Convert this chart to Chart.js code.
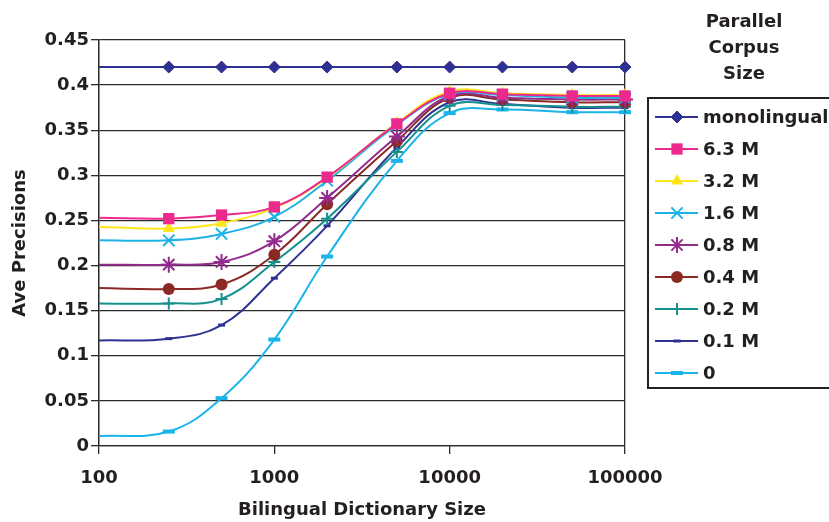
<!DOCTYPE html>
<html>
<head>
<meta charset="utf-8">
<script src="https://cdn.jsdelivr.net/npm/chart.js@4.4.1/dist/chart.umd.min.js"></script>
<style>
  html, body { margin: 0; padding: 0; background: #fff; }
  #wrap { width: 829px; height: 522px; }
</style>
</head>
<body>
<div id="wrap"><canvas id="apChart" width="829" height="522"></canvas></div>
<script>
// x = bilingual dictionary size (log axis)
const dictSizes = [100, 250, 500, 1000, 2000, 5000, 10000, 20000, 50000, 100000];
const xTicks = [100, 1000, 10000, 100000];
const yTickLabels = ['0', '0.05', '0.1', '0.15', '0.2', '0.25', '0.3', '0.35', '0.4', '0.45'];

const seriesNames = ['monolingual', '6.3 M', '3.2 M', '1.6 M', '0.8 M', '0.4 M', '0.2 M', '0.1 M', '0'];
const monolingual = [0.42, 0.42, 0.42, 0.42, 0.42, 0.42, 0.42, 0.42, 0.42, 0.42];
const par63 = [0.253, 0.252, 0.256, 0.265, 0.298, 0.357, 0.391, 0.390, 0.388, 0.388];
const par32 = [0.243, 0.241, 0.247, 0.264, 0.297, 0.358, 0.393, 0.391, 0.389, 0.389];
const par16 = [0.228, 0.228, 0.235, 0.254, 0.294, 0.356, 0.390, 0.389, 0.386, 0.386];
const par08 = [0.201, 0.201, 0.204, 0.227, 0.275, 0.343, 0.388, 0.386, 0.384, 0.384];
const par04 = [0.175, 0.174, 0.179, 0.212, 0.268, 0.338, 0.386, 0.384, 0.381, 0.381];
const par02 = [0.158, 0.158, 0.163, 0.204, 0.252, 0.326, 0.377, 0.378, 0.376, 0.376];
const par01 = [0.117, 0.119, 0.134, 0.186, 0.244, 0.331, 0.381, 0.379, 0.375, 0.375];
const par0  = [0.011, 0.016, 0.053, 0.118, 0.210, 0.316, 0.369, 0.373, 0.370, 0.370];
const allSeries = [monolingual, par63, par32, par16, par08, par04, par02, par01, par0];

const legendTitle = ['Parallel', 'Corpus', 'Size'];

// marker look per series
const styles = [
    { color: '#2E3192', point: 'rectRot',  r: 6,   bw: 1 },
    { color: '#EC2A8E', point: 'rect',     r: 8,   bw: 0 },
    { color: '#FFE61A', point: 'triangle', r: 7,   bw: 0 },
    { color: '#1DB2E6', point: 'crossRot', r: 8,   bw: 2 },
    { color: '#922B8C', point: 'star',     r: 8,   bw: 2 },
    { color: '#8B2A24', point: 'circle',   r: 6,   bw: 0 },
    { color: '#14918E', point: 'cross',    r: 6,   bw: 2 },
    { color: '#2E3192', point: 'line',     r: 3.5, bw: 3 },
    { color: '#1AB4EA', point: 'line',     r: 6,   bw: 4 },
];

const FONT = '"DejaVu Sans", "Liberation Sans", Arial, sans-serif';
const TEXT = '#231F20';
const GRID = '#2b2b2b';

const datasets = allSeries.map((vals, i) => {
    const s = styles[i];
    return {
        label: seriesNames[i],
        data: vals.map((v, j) => ({ x: dictSizes[j], y: v })),
        borderColor: s.color,
        backgroundColor: s.color,
        borderWidth: 2,
        tension: 0.4,
        pointStyle: s.point,
        pointRadius: ctx => ctx.dataIndex === 0 ? 0 : s.r,
        pointHoverRadius: s.r,
        pointBackgroundColor: s.color,
        pointBorderColor: s.color,
        pointBorderWidth: s.bw,
        clip: false,
        markerR: s.r,
        markerBW: s.bw,
    };
});

// legend box with line + marker, and the title above it
const boxedLegend = {
    id: 'boxedLegend',
    afterDraw(chart) {
        const ctx = chart.ctx;
        ctx.save();
        ctx.font = 'bold 18px ' + FONT;
        ctx.fillStyle = TEXT;
        ctx.textAlign = 'center';
        ctx.textBaseline = 'middle';
        legendTitle.forEach((t, i) => ctx.fillText(t, 744, 22 + i * 26));

        ctx.strokeStyle = '#222';
        ctx.lineWidth = 2;
        ctx.strokeRect(648, 98, 200, 290);

        ctx.textAlign = 'left';
        chart.data.datasets.forEach((ds, i) => {
            const y = 117 + i * 32;
            ctx.strokeStyle = ds.borderColor;
            ctx.lineWidth = 2;
            ctx.beginPath();
            ctx.moveTo(655, y);
            ctx.lineTo(698, y);
            ctx.stroke();
            ctx.fillStyle = ds.pointBackgroundColor;
            ctx.strokeStyle = ds.pointBorderColor;
            ctx.lineWidth = ds.markerBW;
            Chart.helpers.drawPoint(ctx, { pointStyle: ds.pointStyle, radius: ds.markerR, rotation: 0, borderWidth: ds.markerBW }, 677, y);
            ctx.fillStyle = TEXT;
            ctx.fillText(ds.label, 703, y + 1);
        });
        ctx.restore();
    }
};

new Chart(document.getElementById('apChart'), {
    type: 'line',
    data: { datasets },
    plugins: [boxedLegend],
    options: {
        responsive: false,
        animation: false,
        devicePixelRatio: 1,
        layout: { padding: { top: 40, right: 204, bottom: 0, left: 0 } },
        plugins: { legend: { display: false }, tooltip: { enabled: false } },
        scales: {
            x: {
                type: 'logarithmic',
                min: 100,
                max: 100000,
                afterBuildTicks: s => { s.ticks = xTicks.map(v => ({ value: v })); },
                afterFit: s => { s.height = 76; },
                ticks: {
                    callback: v => String(v),
                    font: { family: FONT, size: 18, weight: 'bold' },
                    color: TEXT,
                    padding: 14,
                    maxRotation: 0,
                    autoSkip: false,
                },
                grid: {
                    color: c => (c.index === 0 || c.index === xTicks.length - 1) ? GRID : 'rgba(0,0,0,0)',
                    tickColor: GRID,
                    tickLength: 8,
                    lineWidth: 1.3,
                },
                border: { color: GRID, width: 1.3 },
                title: {
                    display: true,
                    text: 'Bilingual Dictionary Size',
                    font: { family: FONT, size: 18, weight: 'bold' },
                    color: TEXT,
                    padding: 1,
                },
            },
            y: {
                min: 0,
                max: 0.45,
                afterFit: s => { s.width = 99; },
                ticks: {
                    stepSize: 0.05,
                    callback: (v, i) => yTickLabels[i],
                    font: { family: FONT, size: 18, weight: 'bold' },
                    color: TEXT,
                    padding: 2,
                },
                grid: { color: GRID, tickColor: GRID, tickLength: 8, lineWidth: 1.3 },
                border: { color: GRID, width: 1.3 },
                title: {
                    display: true,
                    text: 'Ave Precisions',
                    font: { family: FONT, size: 18, weight: 'bold' },
                    color: TEXT,
                    padding: 10,
                },
            },
        },
    },
});
</script>
</body>
</html>
